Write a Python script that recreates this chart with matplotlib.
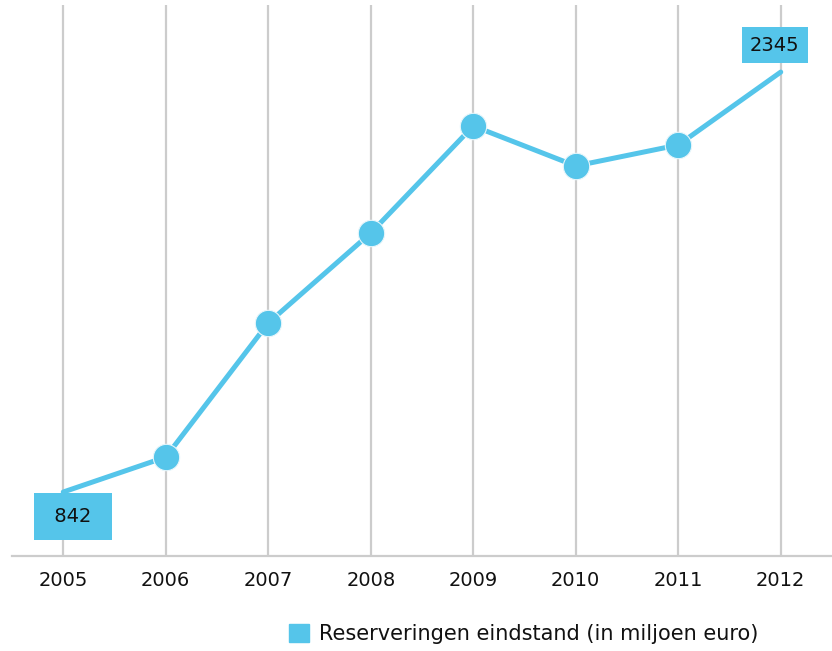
import matplotlib.pyplot as plt
from matplotlib.patches import Patch

years = [2005, 2006, 2007, 2008, 2009, 2010, 2011, 2012]
reserves = [842, 967, 1447, 1769, 2152, 2009, 2084, 2345]
legend_label = "Reserveringen eindstand (in miljoen euro)"

blue = "#55c5ea"
grid_grey = "#cccccc"

fig = plt.figure(figsize=(8.32, 6.51), dpi=100)
ax = fig.add_axes([12 / 832, 95 / 651, 820 / 832, 551 / 651])

# vertical grid lines at each year
for yr in years:
    ax.axvline(yr, color=grid_grey, lw=1.6, zorder=1)

ax.plot(years, reserves, color=blue, lw=3.6, zorder=3, solid_capstyle="round")
# markers on inner points only; first and last get label boxes instead
ax.plot(years[1:-1], reserves[1:-1], "o", color=blue, ms=19,
        mec="#e8f6fb", mew=0.8, zorder=4)

ax.annotate(" 842 ", (years[0], reserves[0]), xytext=(10, -24),
            textcoords="offset pixels", ha="center", va="center",
            fontsize=14, color="#111111", zorder=5,
            bbox=dict(boxstyle="square,pad=0.72", fc=blue, ec="none"))
ax.annotate("2345", (years[-1], reserves[-1]), xytext=(-6, 27),
            textcoords="offset pixels", ha="center", va="center",
            fontsize=14, color="#111111", zorder=5,
            bbox=dict(boxstyle="square,pad=0.42", fc=blue, ec="none"))

ax.set_xlim(2004.5, 2012.5)
ax.set_ylim(613, 2585)
ax.set_xticks(years)
ax.set_xticklabels([str(y) for y in years], fontsize=14, color="#111111")
ax.set_yticks([])
ax.tick_params(axis="x", length=0, pad=11)
for side in ["top", "right", "left"]:
    ax.spines[side].set_visible(False)
ax.spines["bottom"].set_color(grid_grey)
ax.spines["bottom"].set_linewidth(1.6)

fig.legend(handles=[Patch(color=blue, label=legend_label)],
           loc="center left", bbox_to_anchor=(270 / 832, 17 / 651),
           frameon=False, fontsize=15, handlelength=0.95, handleheight=0.95,
           handletextpad=0.5, labelcolor="#111111")

fig.savefig("out.png", dpi=100)
